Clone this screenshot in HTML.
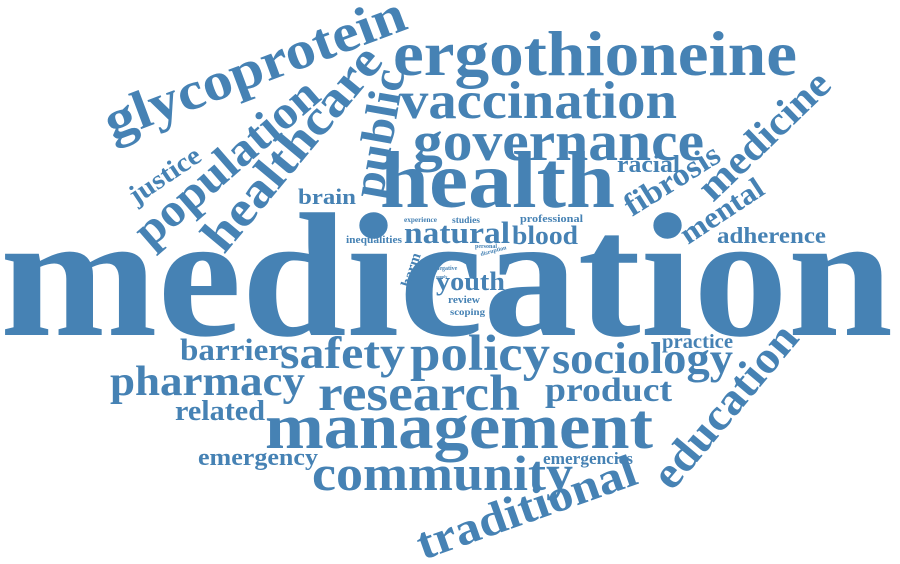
<!DOCTYPE html>
<html><head><meta charset="utf-8"><style>
html,body{margin:0;padding:0;background:#fff;}
svg{display:block}
text{font-family:"Liberation Serif",serif;font-weight:bold;fill:#4682b4;}
</style></head><body>
<svg width="900" height="564" viewBox="0 0 900 564">
<text x="0" y="335" font-size="177" textLength="893" lengthAdjust="spacingAndGlyphs">medication</text>
<text x="380" y="207" font-size="81" textLength="235" lengthAdjust="spacingAndGlyphs">health</text>
<text x="393" y="75" font-size="64" textLength="404" lengthAdjust="spacingAndGlyphs">ergothioneine</text>
<text x="400" y="118" font-size="53" textLength="277" lengthAdjust="spacingAndGlyphs">vaccination</text>
<text x="413" y="160" font-size="56" textLength="291" lengthAdjust="spacingAndGlyphs">governance</text>
<text x="265" y="448" font-size="65" textLength="388" lengthAdjust="spacingAndGlyphs">management</text>
<text x="312" y="490" font-size="50" textLength="261" lengthAdjust="spacingAndGlyphs">community</text>
<text x="318" y="410" font-size="51" textLength="202" lengthAdjust="spacingAndGlyphs">research</text>
<text x="410" y="370" font-size="51" textLength="140" lengthAdjust="spacingAndGlyphs">policy</text>
<text x="280" y="368" font-size="46" textLength="125" lengthAdjust="spacingAndGlyphs">safety</text>
<text x="552" y="373" font-size="44" textLength="181" lengthAdjust="spacingAndGlyphs">sociology</text>
<text x="110" y="395" font-size="42" textLength="195" lengthAdjust="spacingAndGlyphs">pharmacy</text>
<text x="545" y="401" font-size="34" textLength="127" lengthAdjust="spacingAndGlyphs">product</text>
<text x="180" y="360" font-size="31" textLength="103" lengthAdjust="spacingAndGlyphs">barrier</text>
<text x="175" y="420" font-size="28" textLength="90" lengthAdjust="spacingAndGlyphs">related</text>
<text x="198" y="465" font-size="24" textLength="120" lengthAdjust="spacingAndGlyphs">emergency</text>
<text x="543" y="464" font-size="17" textLength="90" lengthAdjust="spacingAndGlyphs">emergencies</text>
<text x="662" y="348" font-size="20" textLength="71" lengthAdjust="spacingAndGlyphs">practice</text>
<text x="717" y="243" font-size="23" textLength="109" lengthAdjust="spacingAndGlyphs">adherence</text>
<text x="298" y="204" font-size="22" textLength="58" lengthAdjust="spacingAndGlyphs">brain</text>
<text x="617" y="172" font-size="24" textLength="63" lengthAdjust="spacingAndGlyphs">racial</text>
<text x="404" y="243" font-size="31" textLength="106" lengthAdjust="spacingAndGlyphs">natural</text>
<text x="512" y="244" font-size="26" textLength="66" lengthAdjust="spacingAndGlyphs">blood</text>
<text x="520" y="222" font-size="11" textLength="63" lengthAdjust="spacingAndGlyphs">professional</text>
<text x="452" y="223" font-size="9" textLength="28" lengthAdjust="spacingAndGlyphs">studies</text>
<text x="404" y="222" font-size="7.5" textLength="33" lengthAdjust="spacingAndGlyphs">experience</text>
<text x="346" y="243" font-size="10" textLength="56" lengthAdjust="spacingAndGlyphs">inequalities</text>
<text x="436" y="290" font-size="26" textLength="69" lengthAdjust="spacingAndGlyphs">youth</text>
<text x="448" y="303" font-size="10" textLength="32" lengthAdjust="spacingAndGlyphs">review</text>
<text x="450" y="315" font-size="9.5" textLength="35" lengthAdjust="spacingAndGlyphs">scoping</text>
<text x="475" y="248" font-size="6">personal</text>
<text x="436" y="270" font-size="6">negative</text>
<text x="436" y="278" font-size="4">supply</text>
<text font-size="6" transform="translate(481,256) rotate(-15)">disruption</text>
<text font-size="15" transform="translate(410,288) rotate(-72)">harm</text>
<text font-size="54" textLength="318" lengthAdjust="spacingAndGlyphs" transform="translate(112,140) rotate(-20.6)">glycoprotein</text>
<text font-size="47" textLength="229" lengthAdjust="spacingAndGlyphs" transform="translate(150,249) rotate(-41)">population</text>
<text font-size="50" textLength="251" lengthAdjust="spacingAndGlyphs" transform="translate(224,255) rotate(-50.2)">healthcare</text>
<text font-size="46" textLength="130" lengthAdjust="spacingAndGlyphs" transform="translate(382,200) rotate(-80)">public</text>
<text font-size="27" textLength="81" lengthAdjust="spacingAndGlyphs" transform="translate(136,205) rotate(-34)">justice</text>
<text font-size="41" textLength="167" lengthAdjust="spacingAndGlyphs" transform="translate(713,203) rotate(-44)">medicine</text>
<text font-size="32" textLength="107" lengthAdjust="spacingAndGlyphs" transform="translate(632,217) rotate(-32)">fibrosis</text>
<text font-size="30" textLength="94" lengthAdjust="spacingAndGlyphs" transform="translate(688,245) rotate(-33.5)">mental</text>
<text font-size="46" textLength="230" lengthAdjust="spacingAndGlyphs" transform="translate(423,560) rotate(-19.5)">traditional</text>
<text font-size="45" textLength="200" lengthAdjust="spacingAndGlyphs" transform="translate(672,492) rotate(-50)">education</text>
</svg>
</body></html>
